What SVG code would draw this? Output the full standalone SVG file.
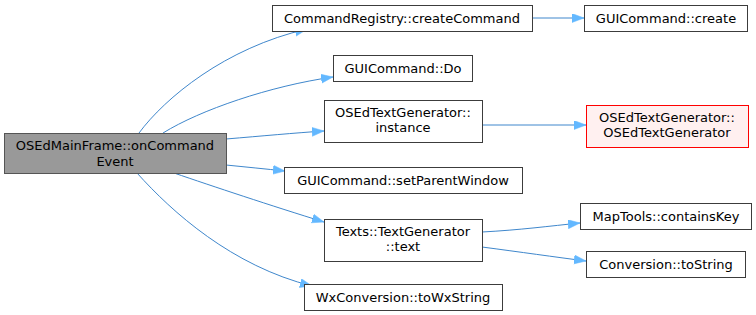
<svg xmlns="http://www.w3.org/2000/svg" width="756" height="315" viewBox="0 0 756 315">
  <style>
    .node rect { fill: #ffffff; stroke: #3c3c3c; stroke-width: 1; }
    .node.root rect { fill: #999999; stroke: #555555; }
    .node.missing rect { fill: #fff0f0; stroke: #ff0000; }
    .node text { font-family: "DejaVu Sans", "Liberation Sans", sans-serif; font-size: 13px; fill: #000000; text-anchor: middle; }
    .edges path { fill: none; stroke: #3f87cc; stroke-width: 1; marker-end: url(#arrow); }
  </style>
  <defs>
    <marker id="arrow" markerUnits="userSpaceOnUse" markerWidth="13" markerHeight="10" refX="12" refY="4.5" orient="auto">
      <path d="M0,0 L12,4.5 L0,9 Z" fill="#63b8ff" stroke="#63b8ff" stroke-width="0.5"/>
    </marker>
  </defs>
  <rect width="756" height="315" fill="#ffffff"/>

  <g class="edges">
    <path d="M139,133 C165,98 225,48 307,29"/>
    <path d="M163,133 C200,110 270,86 333,77"/>
    <path d="M226,139 C262,136 294,133 324,131"/>
    <path d="M226,165 C246,167 266,169 285,171"/>
    <path d="M174,173 C212,186 272,206 324,222"/>
    <path d="M137,173 C172,212 232,266 312,286"/>
    <path d="M532,18 L584,18"/>
    <path d="M482,125 L586,125"/>
    <path d="M482,232 C520,230 550,226 580,223"/>
    <path d="M482,247 C520,252 555,257 586,261"/>
  </g>

  <g id="node-main" class="node root">
    <rect x="4.5" y="133.5" width="222" height="40"/>
    <text x="115" y="150">OSEdMainFrame::onCommand</text>
    <text x="115" y="166">Event</text>
  </g>
  <g id="node-createCommand" class="node">
    <rect x="272.5" y="5.5" width="260" height="26"/>
    <text x="402" y="23">CommandRegistry::createCommand</text>
  </g>
  <g id="node-guiCreate" class="node">
    <rect x="584.5" y="5.5" width="163" height="26"/>
    <text x="666" y="23">GUICommand::create</text>
  </g>
  <g id="node-guiDo" class="node">
    <rect x="333.5" y="55.5" width="139" height="26"/>
    <text x="403" y="73">GUICommand::Do</text>
  </g>
  <g id="node-instance" class="node">
    <rect x="324.5" y="100.5" width="158" height="42"/>
    <text x="403" y="117">OSEdTextGenerator::</text>
    <text x="403" y="132">instance</text>
  </g>
  <g id="node-ctor" class="node missing">
    <rect x="586.5" y="105.5" width="162" height="42"/>
    <text x="667" y="122">OSEdTextGenerator::</text>
    <text x="667" y="137">OSEdTextGenerator</text>
  </g>
  <g id="node-setParentWindow" class="node">
    <rect x="284.5" y="167.5" width="238" height="26"/>
    <text x="403" y="185">GUICommand::setParentWindow</text>
  </g>
  <g id="node-text" class="node">
    <rect x="324.5" y="219.5" width="158" height="42"/>
    <text x="403" y="236">Texts::TextGenerator</text>
    <text x="403" y="251">::text</text>
  </g>
  <g id="node-containsKey" class="node">
    <rect x="580.5" y="203.5" width="171" height="26"/>
    <text x="666" y="221">MapTools::containsKey</text>
  </g>
  <g id="node-toString" class="node">
    <rect x="586.5" y="251.5" width="159" height="26"/>
    <text x="666" y="269">Conversion::toString</text>
  </g>
  <g id="node-toWxString" class="node">
    <rect x="304.5" y="284.5" width="198" height="26"/>
    <text x="403" y="302">WxConversion::toWxString</text>
  </g>
</svg>
